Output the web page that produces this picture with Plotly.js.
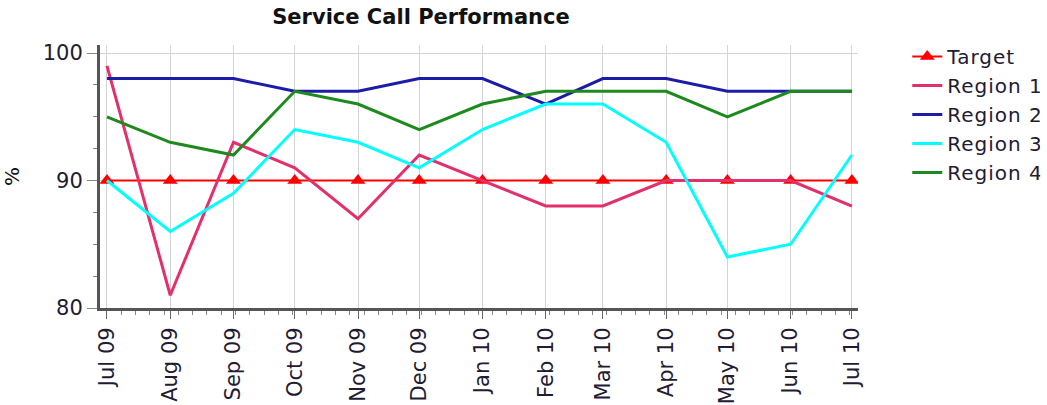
<!DOCTYPE html>
<html>
<head>
<meta charset="utf-8">
<script src="https://cdn.plot.ly/plotly-3.0.1.min.js"></script>
<style>
  html, body { margin: 0; padding: 0; background: #fff; }
  #chart { width: 1047px; height: 405px; }
  #chart .legendtext { letter-spacing: 1px; }
</style>
</head>
<body>
<div id="chart"></div>
<script>
const months = ['2009-07-01', '2009-08-01', '2009-09-01', '2009-10-01', '2009-11-01', '2009-12-01',
  '2010-01-01', '2010-02-01', '2010-03-01', '2010-04-01', '2010-05-01', '2010-06-01', '2010-07-01'];

const target = [90, 90, 90, 90, 90, 90, 90, 90, 90, 90, 90, 90, 90];
const region1 = [99, 81, 93, 91, 87, 92, 90, 88, 88, 90, 90, 90, 88];
const region2 = [98, 98, 98, 97, 97, 98, 98, 96, 98, 98, 97, 97, 97];
const region3 = [90, 86, 89, 94, 93, 91, 94, 96, 96, 93, 84, 85, 92];
const region4 = [95, 93, 92, 97, 96, 94, 96, 97, 97, 97, 95, 97, 97];

const textColor = '#231a33';

const makeLine = (name, values, color) => ({
  x: months,
  y: values,
  mode: 'lines',
  name: name,
  line: { color: color, width: 3 }
});

const data = [
  {
    x: months,
    y: target,
    mode: 'lines+markers',
    name: 'Target',
    line: { color: '#ff0000', width: 2 },
    marker: { symbol: 'triangle-up', size: 13, color: '#ff0000' }
  },
  makeLine('Region 1', region1, '#e3306c'),
  makeLine('Region 2', region2, '#1c1ca8'),
  makeLine('Region 3', region3, '#00ffff'),
  makeLine('Region 4', region4, '#1e8a1e')
];

const layout = {
  width: 1047,
  height: 405,
  margin: { l: 100, r: 189, t: 45, b: 97, autoexpand: false },
  paper_bgcolor: '#ffffff',
  plot_bgcolor: '#ffffff',
  font: { family: 'DejaVu Sans, Verdana, sans-serif', size: 21, color: textColor },
  title: {
    text: '<b>Service Call Performance</b>',
    font: { family: 'DejaVu Sans, Verdana, sans-serif', size: 21, color: '#111' },
    x: 421 / 1047,
    xanchor: 'center',
    y: 1 - 17 / 405,
    yanchor: 'middle'
  },
  xaxis: {
    type: 'date',
    range: ['2009-06-27 14:00', '2010-07-04'],
    tickvals: months,
    tickformat: '%b %y',
    tickangle: -90,
    ticks: 'outside',
    ticklen: 8,
    tickcolor: '#666',
    showgrid: true,
    gridcolor: '#d4d4d4',
    gridwidth: 1,
    showline: true,
    linecolor: '#555',
    linewidth: 3,
    zeroline: false,
    tickfont: { size: 21, color: textColor },
    minor: {
      dtick: 7 * 86400000,
      tick0: '2009-07-01',
      ticks: 'outside',
      ticklen: 4,
      tickcolor: '#888',
      showgrid: false
    }
  },
  yaxis: {
    range: [80, 100.63],
    tickvals: [80, 90, 100],
    ticks: 'outside',
    ticklen: 10,
    tickcolor: '#888',
    showgrid: true,
    gridcolor: '#d4d4d4',
    gridwidth: 1,
    showline: true,
    linecolor: '#555',
    linewidth: 3,
    zeroline: false,
    tickfont: { size: 21, color: textColor },
    title: { text: '%', font: { size: 20, color: '#111' }, standoff: 20 },
    minor: {
      dtick: 2.5,
      ticks: 'outside',
      ticklen: 4,
      tickcolor: '#888',
      showgrid: false
    }
  },
  showlegend: true,
  legend: {
    x: 1.065,
    xanchor: 'left',
    y: 1.03,
    yanchor: 'top',
    traceorder: 'normal',
    font: { size: 20, color: textColor },
    bgcolor: 'rgba(0,0,0,0)',
    itemwidth: 30,
    tracegroupgap: 0
  }
};

const config = { responsive: false, displayModeBar: false, staticPlot: true };

Plotly.newPlot('chart', data, layout, config);
</script>
</body>
</html>
